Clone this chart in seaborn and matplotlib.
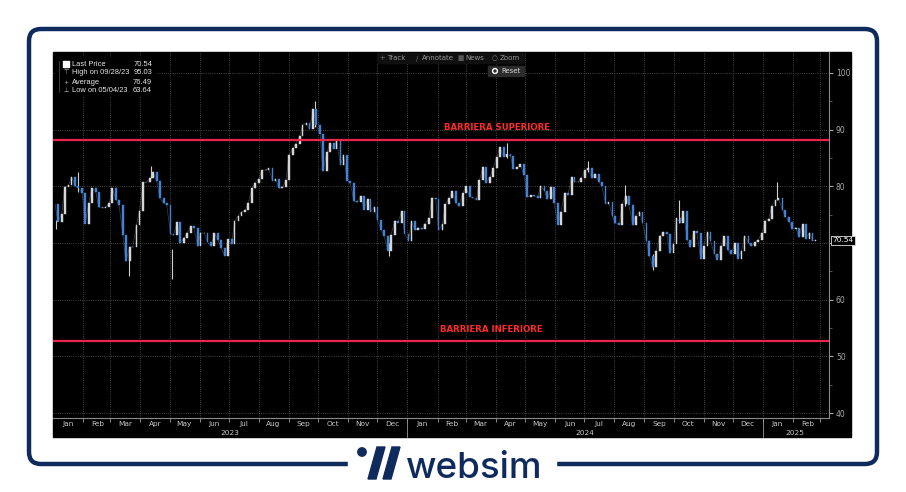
import numpy as np
import pandas as pd
import matplotlib
matplotlib.use("Agg")
import matplotlib.pyplot as plt
from matplotlib.patches import FancyBboxPatch, Rectangle, Circle, Polygon
import seaborn as sns

# closes, two per week (Tue / Fri)
close_2023 = [76.93, 73.77, 75.12, 79.86, 80.18, 81.64, 80.13, 79.68, 78.87,   # jan
              73.39, 77.14, 79.72, 79.06, 76.34, 76.16, 76.32, 77.05,          # feb
              79.68, 77.58, 76.68, 71.33, 66.74, 69.33, 69.26, 73.20, 75.67,   # mar
              80.71, 80.70, 81.53, 82.52, 80.86, 77.87, 77.07, 76.78,          # apr
              71.66, 71.34, 73.71, 70.04, 70.86, 71.69, 72.91, 72.67, 69.46,   # may
              71.74, 71.74, 70.17, 69.42, 71.78, 70.50, 69.16, 67.70, 70.64,   # jun
              69.79, 73.86, 74.83, 75.42, 75.75, 77.07, 79.63, 80.58,          # jul
              81.37, 82.82, 82.92, 83.19, 80.99, 81.25, 79.64, 79.83, 81.16,   # aug
              85.55, 86.69, 87.51, 88.84, 90.77, 91.20, 90.03, 93.68, 90.79,   # sep
              89.23, 82.79, 85.97, 87.69, 86.66, 88.08, 83.74, 85.54, 81.02,   # oct
              80.51, 77.37, 77.17, 78.26, 75.89, 77.77, 75.54, 76.41,          # nov
              74.07, 72.32, 71.23, 68.61, 71.43, 73.94, 73.56, 75.57, 71.65]   # dec
close_2024 = [70.38, 73.81, 72.24, 72.68, 72.40, 73.41, 74.37, 78.01, 77.82,   # jan
              72.28, 73.31, 76.84, 77.87, 79.19, 77.04, 76.49, 78.87,          # feb
              79.97, 78.15, 78.01, 77.56, 81.04, 83.47, 80.63, 81.62, 83.17,   # mar
              85.15, 86.91, 85.23, 85.66, 85.36, 83.14, 83.36, 83.85, 81.93,   # apr
              78.11, 78.38, 78.26, 78.02, 80.06, 79.26, 77.72, 79.83, 76.99,   # may
              73.25, 75.53, 78.90, 78.45, 81.57, 80.73, 80.83, 81.54,          # jun
              82.81, 83.16, 81.41, 82.21, 80.76, 80.13, 76.96, 77.16, 74.73,   # jul
              73.52, 73.20, 76.84, 78.35, 76.65, 73.17, 74.83, 75.53, 73.55,   # aug
              70.34, 67.67, 65.75, 68.65, 71.19, 71.92, 71.56, 68.18,          # sep
              69.83, 74.38, 73.57, 75.56, 70.58, 69.22, 72.09, 71.78, 67.21,   # oct
              69.49, 71.99, 70.38, 68.12, 67.02, 69.39, 71.24, 68.77, 68.00,   # nov
              69.94, 67.20, 68.59, 71.29, 70.08, 69.46, 70.10, 70.60, 71.72]   # dec
close_2025 = [73.96, 74.25, 76.57, 77.50, 77.88, 75.89, 74.66, 73.77, 72.53,   # jan
              72.70, 71.00, 73.32, 70.74, 71.85, 70.40]                        # feb
last_date = "2025-02-24"
last_price = 70.54

# a few intraday extremes (wicks)
wick_dates = ["2023-01-04", "2023-01-27", "2023-03-20", "2023-04-12", "2023-05-04",
              "2023-09-28", "2023-12-13", "2024-04-12", "2024-07-05", "2024-08-12",
              "2024-09-10", "2024-10-07", "2025-01-15"]
wick_lo = [72.5, 79.0, 64.1, 81.5, 63.64, 90.5, 67.7, 85.0, 82.5, 76.5, 65.3, 73.5, 77.5]
wick_hi = [74.0, 82.6, 68.3, 83.5, 69.0, 95.03, 70.0, 87.67, 84.5, 80.2, 68.0, 77.5, 80.8]

barrier_up = 88.2
barrier_down = 52.7
barrier_labels = ["BARRIERA SUPERIORE", "BARRIERA INFERIORE"]

legend_names = ["Last Price", "High on 09/28/23", "Average", "Low on 05/04/23"]
legend_values = ["70.54", "95.03", "76.49", "63.64"]
month_names = ["Jan", "Feb", "Mar", "Apr", "May", "Jun", "Jul", "Aug", "Sep", "Oct", "Nov", "Dec"]
years = ["2023", "2024", "2025"]
y_ticks = [40, 50, 60, 70, 80, 90, 100]

sns.set_style("dark")
plt.rcParams['font.family'] = ['DejaVu Sans']

W, H = 906, 492
navy = "#0f2a5c"
fig = plt.figure(figsize=(9.06, 4.92), dpi=100, facecolor="white")


def px(x0, y0, x1, y1):
    return [x0 / W, 1 - y1 / H, (x1 - x0) / W, (y1 - y0) / H]


bg = fig.add_axes([0, 0, 1, 1], zorder=0, label="bg")
bg.set_xlim(0, W)
bg.set_ylim(H, 0)
bg.axis("off")
bg.add_patch(Rectangle((53, 52), 798, 385, color="black"))

# main price panel
ax = fig.add_axes(px(53, 52, 829, 418), zorder=1, label="main")
ax.set_facecolor("none")

tue = pd.date_range("2023-01-03", "2025-02-21", freq="W-TUE")
fri = pd.date_range("2023-01-03", "2025-02-21", freq="W-FRI")
dates = tue.union(fri).append(pd.DatetimeIndex([last_date]))
close = np.array(close_2023 + close_2024 + close_2025 + [last_price])
n = min(len(dates), len(close))
dates, close = dates[:n], close[:n]

df = pd.DataFrame({"date": dates, "close": close})
sns.lineplot(data=df, x="date", y="close", ax=ax, color="#aab6c6", lw=0.5, alpha=0.35, zorder=2)

opens = close[:-1]
closes = close[1:]
cols = np.where(closes >= opens, "#d6d6d6", "#4282d6")
ax.bar(dates[1:], closes - opens, bottom=opens, width=1.8, color=cols,
       edgecolor=cols, linewidth=0.3, zorder=3)
ax.vlines(pd.to_datetime(wick_dates), wick_lo, wick_hi, color="#cfcfcf", lw=0.8, zorder=2)

# barriers
ax.axhline(barrier_up, color="#e8254a", lw=1.6, zorder=4)
ax.axhline(barrier_down, color="#e8254a", lw=1.6, zorder=4)

# grid
month_starts = pd.date_range("2023-02-01", "2025-03-01", freq="MS")
for m in month_starts:
    ax.axvline(m, color="#5a5a5a", ls=":", lw=0.6, zorder=1)
for v in y_ticks:
    ax.axhline(v, color="#5a5a5a", ls=":", lw=0.6, zorder=1)

ax.set_xlim(pd.Timestamp("2023-01-01"), pd.Timestamp("2025-03-10"))
ax.set_ylim(39.12, 103.7)
ax.set_xlabel("")
ax.set_ylabel("")
ax.grid(False)

ax.set_xticks(month_starts)
ax.set_xticklabels([])
ax.tick_params(axis="x", colors="#9a9a9a", length=3, width=0.6, direction="out", bottom=True)

ax.yaxis.tick_right()
ax.set_yticks(y_ticks)
# the 70 label sits under the last-price tag
ax.set_yticklabels(["" if v == 70 else str(v) for v in y_ticks])
ax.set_yticks([45, 55, 65, 75, 85, 95], minor=True)
ax.tick_params(axis="y", which="major", colors="#a8a8a8", labelsize=5.5, length=3, width=0.8, pad=2, right=True)
ax.tick_params(axis="y", which="minor", colors="#777777", length=2, width=0.5, right=True)

for s in ["top", "left"]:
    ax.spines[s].set_visible(False)
for s in ["right", "bottom"]:
    ax.spines[s].set_visible(True)
    ax.spines[s].set_color("#8a8a8a")
    ax.spines[s].set_linewidth(0.8)

# month and year labels
tr = ax.get_xaxis_transform()
month_all = pd.date_range("2023-01-01", "2025-02-01", freq="MS")
for m in month_all:
    mid = m + pd.Timedelta(days=15)
    ax.text(mid, -0.017, month_names[m.month - 1], transform=tr, ha="center", va="center",
            fontsize=5.3, color="#c8c8c8", clip_on=False)
year_mid = [pd.Timestamp("2023-07-02"), pd.Timestamp("2024-07-02"), pd.Timestamp("2025-02-03")]
for ym, yl in zip(year_mid, years):
    ax.text(ym, -0.041, yl, transform=tr, ha="center", va="center", fontsize=5.3,
            color="#c8c8c8", clip_on=False)
for yd in [pd.Timestamp("2024-01-01"), pd.Timestamp("2025-01-01")]:
    ax.plot([yd, yd], [-0.005, -0.052], transform=tr, color="#9a9a9a", lw=0.6, clip_on=False)

# overlay: frame, legend, toolbar, logo
top = fig.add_axes([0, 0, 1, 1], zorder=3, label="top")
top.set_xlim(0, W)
top.set_ylim(H, 0)
top.axis("off")
top.patch.set_alpha(0)

top.add_patch(FancyBboxPatch((29, 29), 848, 435, boxstyle="round,pad=0,rounding_size=12",
                             fill=False, ec=navy, lw=3.2))
top.add_patch(Rectangle((348, 456), 208, 16, color="white", zorder=3))

top.text(497, 127, barrier_labels[0], ha="center", va="center", fontsize=6.2,
         fontweight="bold", color="#ff2a2a")
top.text(491, 330, barrier_labels[1], ha="center", va="center", fontsize=6.2,
         fontweight="bold", color="#ff2a2a")

# legend block
top.add_patch(Rectangle((55, 56), 101, 39, color="black", zorder=2))
top.add_patch(Rectangle((63, 61), 6, 6, color="white", zorder=3))
top.plot([59, 59], [61, 92], color="#555555", lw=0.5, zorder=3)
icons = ["", "\u22a4", "+", "\u22a5"]
for i, (nm, val) in enumerate(zip(legend_names, legend_values)):
    yy = 64 + i * 9
    if icons[i]:
        top.text(66, yy, icons[i], ha="center", va="center", fontsize=4.5, color="#bbbbbb", zorder=4)
    top.text(72, yy, nm, ha="left", va="center", fontsize=5.4, color="#e6e6e6", zorder=4,
             fontfamily="Liberation Sans")
    top.text(152, yy, val, ha="right", va="center", fontsize=5.4, color="#e6e6e6", zorder=4,
             fontfamily="Liberation Sans")

# toolbar
top.add_patch(Rectangle((377, 53), 147, 10, color="#101010", zorder=2))
tool_icons = ["+", "\u2215", "\u25a6", "\u25cb"]
tool_names = ["Track", "Annotate", "News", "Zoom"]
tool_x = [382, 417, 460, 495]
for ic, nm, x in zip(tool_icons, tool_names, tool_x):
    top.text(x, 58, ic, ha="center", va="center", fontsize=4.8, color="#7a7a7a", zorder=3)
    top.text(x + 5, 58, nm, ha="left", va="center", fontsize=5, color="#9a9a9a", zorder=3)
top.add_patch(Rectangle((488, 66), 36, 10, color="#2c2c2c", zorder=2))
top.add_patch(Circle((495, 71), 2.4, color="white", zorder=3))
top.add_patch(Circle((495, 71), 1.0, color="#2c2c2c", zorder=4))
top.text(501, 71, "Reset", ha="left", va="center", fontsize=5, color="#d8d8d8", zorder=3)

# last price tag on the right axis
top.text(832, 240.5, "70.54", ha="left", va="center", fontsize=5.3, color="white", zorder=5,
         bbox=dict(boxstyle="square,pad=0.2", fc="black", ec="#dddddd", lw=0.6))

# websim logo
top.add_patch(Circle((362, 452), 4.2, color=navy, zorder=4))
top.add_patch(Polygon([(377, 447), (385, 447), (376, 479), (368, 479)], closed=True, color=navy, zorder=4))
top.add_patch(Polygon([(392, 447), (400, 447), (391, 479), (383, 479)], closed=True, color=navy, zorder=4))
top.text(406, 478, "websim", ha="left", va="baseline", fontsize=26.5, fontfamily="Inter",
         fontweight="medium", color=navy, zorder=4)

fig.savefig("out.png", dpi=100, facecolor="white")
